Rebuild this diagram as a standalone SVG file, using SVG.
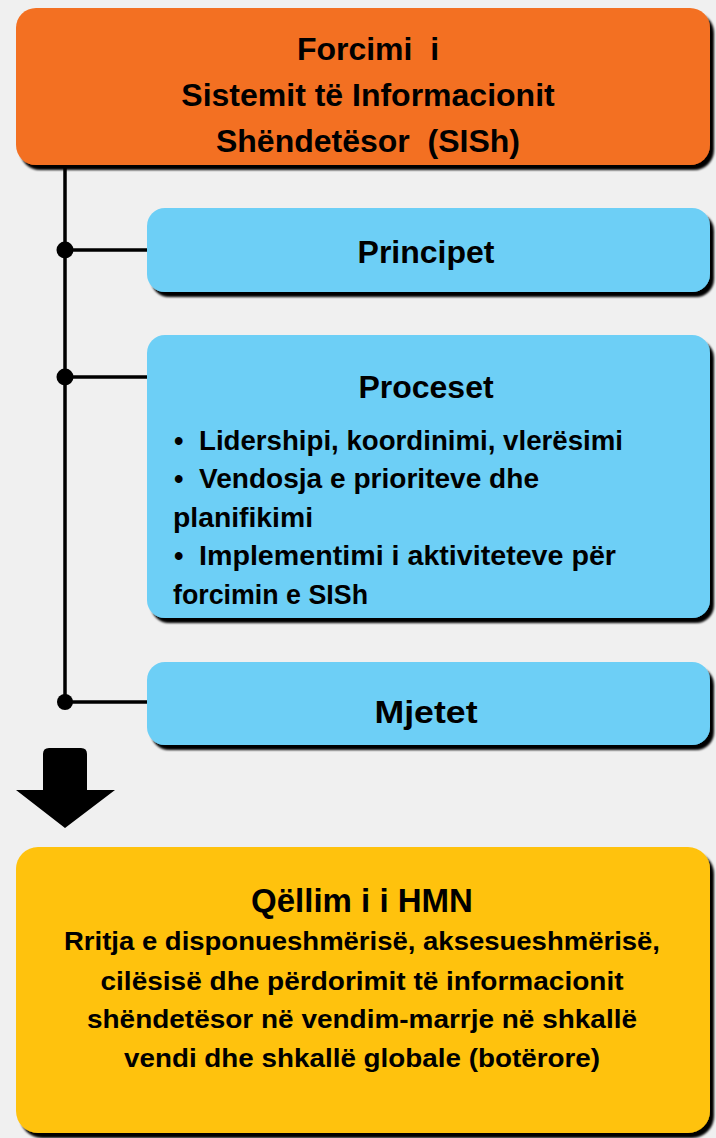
<svg xmlns="http://www.w3.org/2000/svg" width="716" height="1138" viewBox="0 0 716 1138">
  <defs>
    <filter id="shadow" x="-5%" y="-5%" width="115%" height="120%">
      <feDropShadow dx="4" dy="5" stdDeviation="0.8" flood-color="#000" flood-opacity="1"/>
    </filter>
  </defs>
  <style>
    text { font-family: "Liberation Sans", Arial, sans-serif; font-weight: bold; fill: #000; }
    .box { filter: url(#shadow); }
    .orange { fill: #F37021; }
    .blue { fill: #6DCFF6; }
    .yellow { fill: #FFC20E; }
    .title { font-size: 32px; text-anchor: middle; }
    .head { font-size: 32px; text-anchor: middle; }
    .item { font-size: 27px; }
    .goal { font-size: 33px; text-anchor: middle; }
    .body { font-size: 26px; text-anchor: middle; }
    .line { stroke: #000; stroke-width: 3.5; fill: none; }
  </style>
  <rect x="0" y="0" width="716" height="1138" fill="#F0F0F0"/>

  <g id="connectors">
    <line class="line" x1="65" y1="160" x2="65" y2="702"/>
    <line class="line" x1="65" y1="250" x2="150" y2="250"/>
    <line class="line" x1="65" y1="377" x2="150" y2="377"/>
    <line class="line" x1="65" y1="702" x2="150" y2="702"/>
    <circle cx="65" cy="250" r="8.5" fill="#000"/>
    <circle cx="65" cy="377" r="8.5" fill="#000"/>
    <circle cx="65" cy="702" r="8" fill="#000"/>
    <path d="M43,754 Q43,748 49,748 L81,748 Q87,748 87,754 L87,790 L115,790 L65,828 L16,790 L43,790 Z" fill="#000"/>
  </g>

  <g id="node-sish">
    <rect class="box orange" x="16" y="8" width="694" height="157" rx="20"/>
    <text class="title" x="368" y="60" xml:space="preserve">Forcimi  i</text>
    <text class="title" x="368" y="106">Sistemit të Informacionit</text>
    <text class="title" x="368" y="152" xml:space="preserve">Shëndetësor  (SISh)</text>
  </g>

  <g id="node-principet">
    <rect class="box blue" x="147" y="208" width="563" height="84" rx="18"/>
    <text class="head" x="426" y="263">Principet</text>
  </g>

  <g id="node-proceset">
    <rect class="box blue" x="147" y="335" width="563" height="283" rx="18"/>
    <text class="head" x="426" y="398">Proceset</text>
    <text class="item" x="174" y="450">•</text>
    <text class="item" x="199" y="450" textLength="424" lengthAdjust="spacingAndGlyphs">Lidershipi, koordinimi, vlerësimi</text>
    <text class="item" x="174" y="488">•</text>
    <text class="item" x="199" y="488" textLength="340" lengthAdjust="spacingAndGlyphs">Vendosja e prioriteve dhe</text>
    <text class="item" x="173" y="527" textLength="140" lengthAdjust="spacingAndGlyphs">planifikimi</text>
    <text class="item" x="174" y="565">•</text>
    <text class="item" x="199" y="565" textLength="417" lengthAdjust="spacingAndGlyphs">Implementimi i aktiviteteve për</text>
    <text class="item" x="173" y="604" textLength="195" lengthAdjust="spacingAndGlyphs">forcimin e SISh</text>
  </g>

  <g id="node-mjetet">
    <rect class="box blue" x="147" y="662" width="563" height="83" rx="18"/>
    <text class="head" x="426" y="723" textLength="103" lengthAdjust="spacingAndGlyphs">Mjetet</text>
  </g>

  <g id="node-qellim">
    <rect class="box yellow" x="16" y="847" width="694" height="286" rx="22"/>
    <text class="goal" x="362" y="912">Qëllim i i HMN</text>
    <text class="body" x="362" y="950" textLength="596" lengthAdjust="spacingAndGlyphs">Rritja e disponueshmërisë, aksesueshmërisë,</text>
    <text class="body" x="362" y="990" textLength="523" lengthAdjust="spacingAndGlyphs">cilësisë dhe përdorimit të informacionit</text>
    <text class="body" x="362" y="1028" textLength="550" lengthAdjust="spacingAndGlyphs">shëndetësor në vendim-marrje në shkallë</text>
    <text class="body" x="362" y="1067" textLength="476" lengthAdjust="spacingAndGlyphs">vendi dhe shkallë globale (botërore)</text>
  </g>
</svg>
